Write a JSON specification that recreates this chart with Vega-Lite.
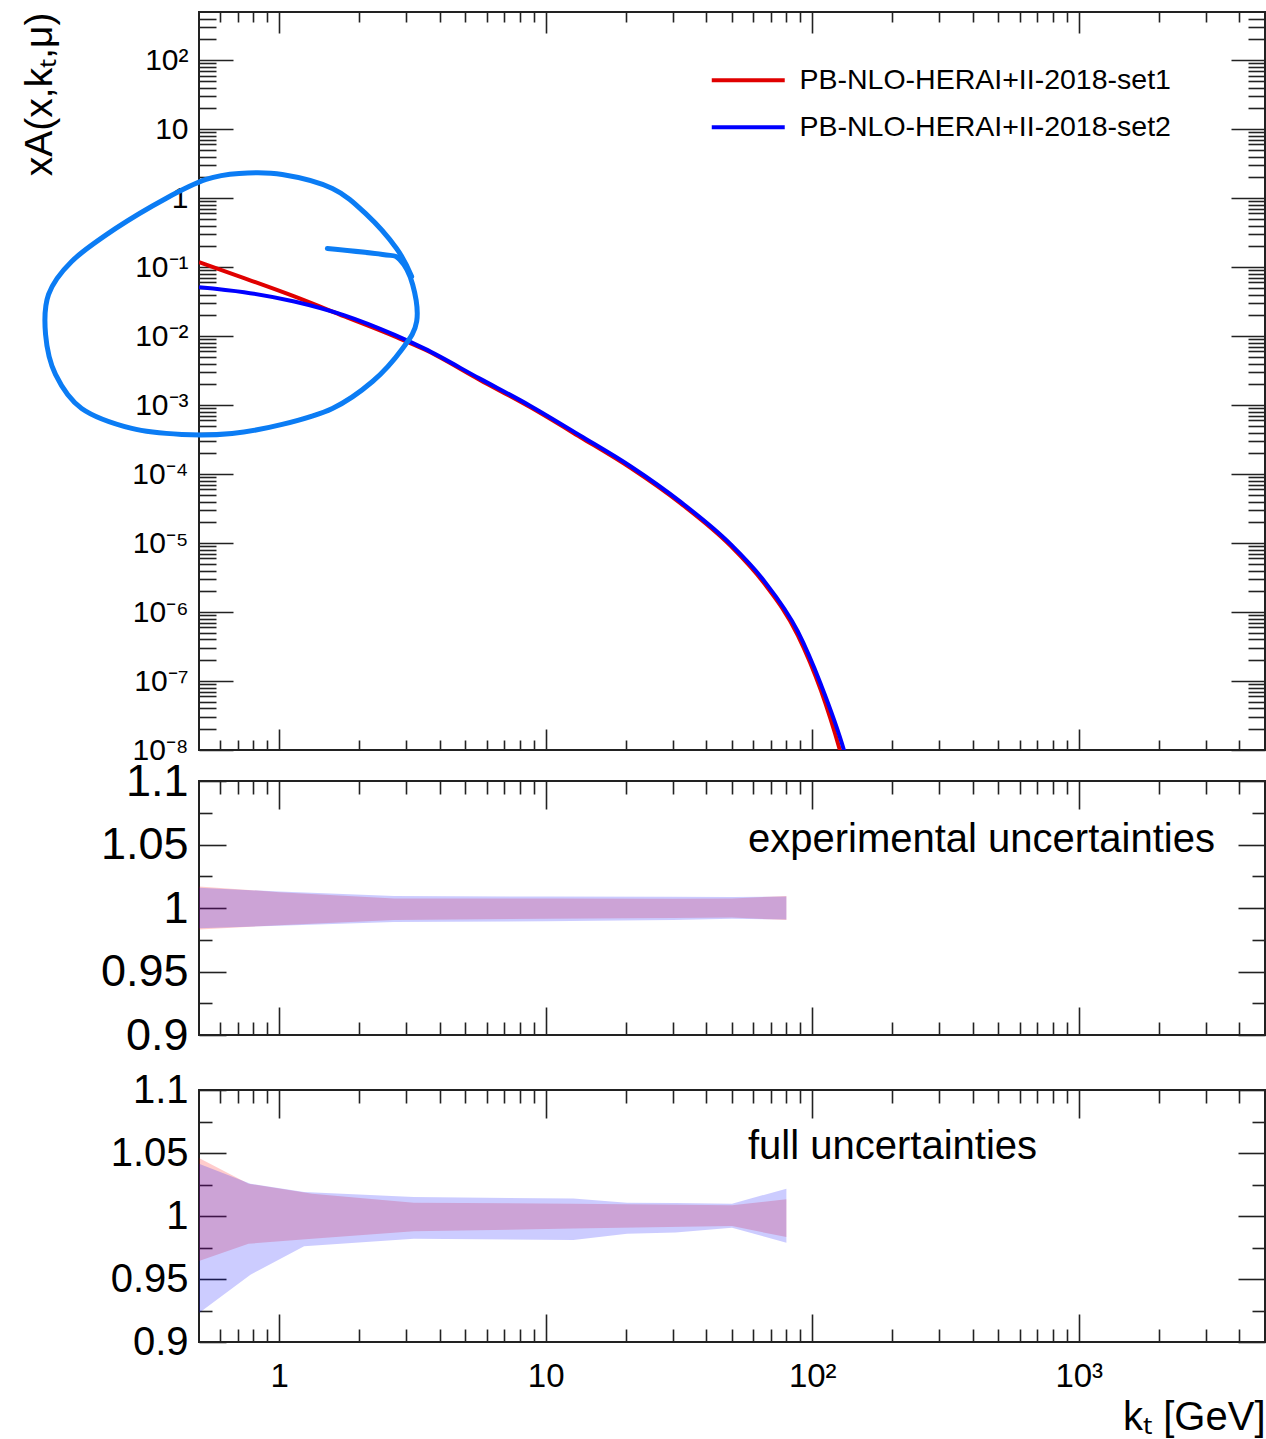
{
  "$schema": "https://vega.github.io/schema/vega-lite/v6.json",
  "padding": {"left": 19, "top": 10, "right": 0, "bottom": 0},
  "background": "white",
  "config": {
    "view": {"stroke": "#222222", "strokeWidth": 2},
    "font": "Liberation Sans",
    "axis": {"domain": false, "grid": false, "tickColor": "#222222", "tickWidth": 1.6, "labelColor": "#000000", "labelFont": "Liberation Sans", "titleFont": "Liberation Sans", "titleColor": "#000000", "titleFontWeight": "normal", "labelOverlap": false, "labelFlush": false, "labelBound": false}
  },
  "datasets": {
    "curves": [
      {"set": "PB-NLO-HERAI+II-2018-set1", "kt": 0.5, "v": 0.118},
      {"set": "PB-NLO-HERAI+II-2018-set1", "kt": 0.738, "v": 0.0693},
      {"set": "PB-NLO-HERAI+II-2018-set1", "kt": 1.139, "v": 0.0376},
      {"set": "PB-NLO-HERAI+II-2018-set1", "kt": 1.757, "v": 0.0193},
      {"set": "PB-NLO-HERAI+II-2018-set1", "kt": 2.71, "v": 0.0099},
      {"set": "PB-NLO-HERAI+II-2018-set1", "kt": 3.51, "v": 0.0064},
      {"set": "PB-NLO-HERAI+II-2018-set1", "kt": 5.66, "v": 0.00232},
      {"set": "PB-NLO-HERAI+II-2018-set1", "kt": 8.73, "v": 0.000935},
      {"set": "PB-NLO-HERAI+II-2018-set1", "kt": 13.5, "v": 0.000342},
      {"set": "PB-NLO-HERAI+II-2018-set1", "kt": 20.8, "v": 0.000123},
      {"set": "PB-NLO-HERAI+II-2018-set1", "kt": 32, "v": 3.78e-5},
      {"set": "PB-NLO-HERAI+II-2018-set1", "kt": 49.4, "v": 9.1e-6},
      {"set": "PB-NLO-HERAI+II-2018-set1", "kt": 65.8, "v": 2.65e-6},
      {"set": "PB-NLO-HERAI+II-2018-set1", "kt": 88.3, "v": 4.6e-7},
      {"set": "PB-NLO-HERAI+II-2018-set1", "kt": 107.8, "v": 7.3e-8},
      {"set": "PB-NLO-HERAI+II-2018-set1", "kt": 127, "v": 1.0e-8},
      {"set": "PB-NLO-HERAI+II-2018-set1", "kt": 140, "v": 2.5e-9},
      {"set": "PB-NLO-HERAI+II-2018-set2", "kt": 0.5, "v": 0.0513},
      {"set": "PB-NLO-HERAI+II-2018-set2", "kt": 0.738, "v": 0.0434},
      {"set": "PB-NLO-HERAI+II-2018-set2", "kt": 1.139, "v": 0.0318},
      {"set": "PB-NLO-HERAI+II-2018-set2", "kt": 1.757, "v": 0.02},
      {"set": "PB-NLO-HERAI+II-2018-set2", "kt": 2.71, "v": 0.01042},
      {"set": "PB-NLO-HERAI+II-2018-set2", "kt": 3.51, "v": 0.00658},
      {"set": "PB-NLO-HERAI+II-2018-set2", "kt": 5.66, "v": 0.00242},
      {"set": "PB-NLO-HERAI+II-2018-set2", "kt": 8.73, "v": 0.000982},
      {"set": "PB-NLO-HERAI+II-2018-set2", "kt": 13.5, "v": 0.00036},
      {"set": "PB-NLO-HERAI+II-2018-set2", "kt": 20.8, "v": 0.00013},
      {"set": "PB-NLO-HERAI+II-2018-set2", "kt": 32, "v": 3.98e-5},
      {"set": "PB-NLO-HERAI+II-2018-set2", "kt": 49.4, "v": 9.64e-6},
      {"set": "PB-NLO-HERAI+II-2018-set2", "kt": 65.8, "v": 2.87e-6},
      {"set": "PB-NLO-HERAI+II-2018-set2", "kt": 88.3, "v": 5.22e-7},
      {"set": "PB-NLO-HERAI+II-2018-set2", "kt": 107.8, "v": 8.9e-8},
      {"set": "PB-NLO-HERAI+II-2018-set2", "kt": 131.5, "v": 1.0e-8},
      {"set": "PB-NLO-HERAI+II-2018-set2", "kt": 140, "v": 4.2e-9}
    ],
    "annot": [
      {"i": 1, "kt": 1.516, "v": 0.1866},
      {"i": 2, "kt": 2.442, "v": 0.1528},
      {"i": 3, "kt": 2.829, "v": 0.1293},
      {"i": 4, "kt": 3.167, "v": 0.0561},
      {"i": 5, "kt": 3.279, "v": 0.01633},
      {"i": 6, "kt": 2.903, "v": 0.00663},
      {"i": 7, "kt": 2.239, "v": 0.0022},
      {"i": 8, "kt": 1.583, "v": 0.000895},
      {"i": 9, "kt": 1.026, "v": 0.000525},
      {"i": 10, "kt": 0.6654, "v": 0.000389},
      {"i": 11, "kt": 0.4314, "v": 0.000376},
      {"i": 12, "kt": 0.2797, "v": 0.000459},
      {"i": 13, "kt": 0.1814, "v": 0.000895},
      {"i": 14, "kt": 0.1447, "v": 0.00279},
      {"i": 15, "kt": 0.1328, "v": 0.0106},
      {"i": 16, "kt": 0.1363, "v": 0.0402},
      {"i": 17, "kt": 0.1664, "v": 0.121},
      {"i": 18, "kt": 0.2435, "v": 0.364},
      {"i": 19, "kt": 0.3756, "v": 0.99},
      {"i": 20, "kt": 0.5313, "v": 1.866},
      {"i": 21, "kt": 0.7072, "v": 2.28},
      {"i": 22, "kt": 1.026, "v": 2.205},
      {"i": 23, "kt": 1.583, "v": 1.382},
      {"i": 24, "kt": 2.125, "v": 0.581},
      {"i": 25, "kt": 2.756, "v": 0.1866},
      {"i": 26, "kt": 3.14, "v": 0.0733}
    ],
    "exp1": [
      {"kt": 0.5, "lo": 0.983, "hi": 1.017},
      {"kt": 1, "lo": 0.9865, "hi": 1.0125},
      {"kt": 2.7, "lo": 0.9906, "hi": 1.0075},
      {"kt": 10, "lo": 0.9915, "hi": 1.0075},
      {"kt": 30, "lo": 0.9922, "hi": 1.0072},
      {"kt": 50, "lo": 0.9925, "hi": 1.0075},
      {"kt": 80, "lo": 0.9905, "hi": 1.0095}
    ],
    "exp2": [
      {"kt": 0.5, "lo": 0.984, "hi": 1.016},
      {"kt": 1, "lo": 0.986, "hi": 1.013},
      {"kt": 2.7, "lo": 0.989, "hi": 1.0094},
      {"kt": 10, "lo": 0.9895, "hi": 1.009},
      {"kt": 30, "lo": 0.9905, "hi": 1.0088},
      {"kt": 50, "lo": 0.9915, "hi": 1.0087},
      {"kt": 80, "lo": 0.991, "hi": 1.009}
    ],
    "full1": [
      {"kt": 0.5, "lo": 0.9643, "hi": 1.046},
      {"kt": 0.767, "lo": 0.978, "hi": 1.0256},
      {"kt": 1.33, "lo": 0.982, "hi": 1.0177},
      {"kt": 3.2, "lo": 0.9878, "hi": 1.0106},
      {"kt": 12.7, "lo": 0.99, "hi": 1.0098},
      {"kt": 50, "lo": 0.992, "hi": 1.0085},
      {"kt": 80, "lo": 0.9833, "hi": 1.0132}
    ],
    "full2": [
      {"kt": 0.5, "lo": 0.923, "hi": 1.0415},
      {"kt": 0.78, "lo": 0.9534, "hi": 1.0256},
      {"kt": 1.24, "lo": 0.976, "hi": 1.019},
      {"kt": 3.2, "lo": 0.982, "hi": 1.0151},
      {"kt": 12.7, "lo": 0.981, "hi": 1.0138},
      {"kt": 20.2, "lo": 0.986, "hi": 1.0106},
      {"kt": 30.7, "lo": 0.987, "hi": 1.0104},
      {"kt": 50, "lo": 0.9907, "hi": 1.0098},
      {"kt": 80, "lo": 0.9788, "hi": 1.0217}
    ],
    "txt2": [{"kt": 57.4, "r": 1.0535, "t": "experimental uncertainties"}],
    "txt3": [{"kt": 57.4, "r": 1.0548, "t": "full uncertainties"}]
  },
  "bounds": "flush",
  "spacing": 0,
  "resolve": {"legend": {"color": "independent"}},
  "vconcat": [
    {
      "width": 1066,
      "height": 738,
      "resolve": {"axis": {"x": "independent", "y": "independent"}},
      "layer": [
        {
          "data": {"name": "curves"},
          "mark": {"type": "line", "strokeWidth": 4, "clip": true, "interpolate": "monotone"},
          "encoding": {
            "x": {"field": "kt", "type": "quantitative", "scale": {"type": "log", "domain": [0.5, 5000], "nice": false},
              "axis": {"orient": "bottom", "title": null, "labels": false,
                "values": [0.6,0.7,0.8,0.9,1,2,3,4,5,6,7,8,9,10,20,30,40,50,60,70,80,90,100,200,300,400,500,600,700,800,900,1000,2000,3000,4000,5000],
                "tickSize": {"condition": {"test": "indexof([1,10,100,1000], datum.value) >= 0", "value": -21}, "value": -10}}},
            "y": {"field": "v", "type": "quantitative", "scale": {"type": "log", "domain": [1e-8, 500], "nice": false},
              "axis": {"orient": "left", "title": "xA(x,kₜ,μ)", "titleFontSize": 39, "titleX": -148, "titleY": 0, "titleAngle": 270, "titleAlign": "right", "titleBaseline": "alphabetic",
                "labelFontSize": {"condition": {"test": "abs(log(datum.value)/LN10 - round(log(datum.value)/LN10)) > 0.001", "value": 0}, "value": 30},
                "labelPadding": 45,
                "values": [1e-8,2e-8,3e-8,4e-8,5e-8,6e-8,7e-8,8e-8,9e-8,1e-7,2e-7,3e-7,4e-7,5e-7,6e-7,7e-7,8e-7,9e-7,1e-6,2e-6,3e-6,4e-6,5e-6,6e-6,7e-6,8e-6,9e-6,1e-5,2e-5,3e-5,4e-5,5e-5,6e-5,7e-5,8e-5,9e-5,1e-4,2e-4,3e-4,4e-4,5e-4,6e-4,7e-4,8e-4,9e-4,0.001,0.002,0.003,0.004,0.005,0.006,0.007,0.008,0.009,0.01,0.02,0.03,0.04,0.05,0.06,0.07,0.08,0.09,0.1,0.2,0.3,0.4,0.5,0.6,0.7,0.8,0.9,1,2,3,4,5,6,7,8,9,10,20,30,40,50,60,70,80,90,100,200,300,400],
                "labelExpr": "abs(log(datum.value)/LN10 - round(log(datum.value)/LN10)) > 0.001 ? '' : ['10⁻⁸','10⁻⁷','10⁻⁶','10⁻⁵','10⁻⁴','10⁻³','10⁻²','10⁻¹','1','10','10²'][round(log(datum.value)/LN10) + 8]",
                "tickSize": {"condition": {"test": "abs(log(datum.value)/LN10 - round(log(datum.value)/LN10)) < 0.001", "value": -34}, "value": -17}}},
            "color": {"field": "set", "type": "nominal",
              "scale": {"domain": ["PB-NLO-HERAI+II-2018-set1", "PB-NLO-HERAI+II-2018-set2"], "range": ["#e00000", "#0000ff"]},
              "legend": {"orient": "none", "legendX": 535, "legendY": 54, "title": null, "symbolType": "M-5,0H5", "symbolSize": 213, "symbolStrokeWidth": 4,
                "labelFontSize": 28.5, "labelFont": "Liberation Sans", "labelColor": "#000000", "labelOffset": 37, "rowPadding": 18, "labelLimit": 0, "padding": 0}}
          }
        },
        {
          "data": {"name": "annot"},
          "mark": {"type": "line", "stroke": "#0b7cf4", "strokeWidth": 5, "interpolate": "cardinal", "strokeCap": "round", "clip": false},
          "encoding": {
            "x": {"field": "kt", "type": "quantitative",
              "axis": {"orient": "top", "title": null, "labels": false,
                "values": [0.6,0.7,0.8,0.9,1,2,3,4,5,6,7,8,9,10,20,30,40,50,60,70,80,90,100,200,300,400,500,600,700,800,900,1000,2000,3000,4000,5000],
                "tickSize": {"condition": {"test": "indexof([1,10,100,1000], datum.value) >= 0", "value": -21}, "value": -10}}},
            "y": {"field": "v", "type": "quantitative",
              "axis": {"orient": "right", "title": null, "labels": false,
                "values": [1e-8,2e-8,3e-8,4e-8,5e-8,6e-8,7e-8,8e-8,9e-8,1e-7,2e-7,3e-7,4e-7,5e-7,6e-7,7e-7,8e-7,9e-7,1e-6,2e-6,3e-6,4e-6,5e-6,6e-6,7e-6,8e-6,9e-6,1e-5,2e-5,3e-5,4e-5,5e-5,6e-5,7e-5,8e-5,9e-5,1e-4,2e-4,3e-4,4e-4,5e-4,6e-4,7e-4,8e-4,9e-4,0.001,0.002,0.003,0.004,0.005,0.006,0.007,0.008,0.009,0.01,0.02,0.03,0.04,0.05,0.06,0.07,0.08,0.09,0.1,0.2,0.3,0.4,0.5,0.6,0.7,0.8,0.9,1,2,3,4,5,6,7,8,9,10,20,30,40,50,60,70,80,90,100,200,300,400],
                "tickSize": {"condition": {"test": "abs(log(datum.value)/LN10 - round(log(datum.value)/LN10)) < 0.001", "value": -34}, "value": -17}}},
            "order": {"field": "i", "type": "quantitative"}
          }
        }
      ]
    },
    {
      "width": 1066,
      "height": 31,
      "view": {"stroke": null},
      "data": {"values": []},
      "mark": {"type": "text", "text": ""},
      "encoding": {}
    },
    {
      "width": 1066,
      "height": 254,
      "resolve": {"axis": {"x": "independent", "y": "independent"}},
      "layer": [
        {
          "data": {"name": "exp1"},
          "mark": {"type": "area", "color": "#ff0000", "opacity": 0.2},
          "encoding": {
            "x": {"field": "kt", "type": "quantitative", "scale": {"type": "log", "domain": [0.5, 5000], "nice": false},
              "axis": {"orient": "bottom", "title": null, "labels": false,
                "values": [0.6,0.7,0.8,0.9,1,2,3,4,5,6,7,8,9,10,20,30,40,50,60,70,80,90,100,200,300,400,500,600,700,800,900,1000,2000,3000,4000,5000],
                "tickSize": {"condition": {"test": "indexof([1,10,100,1000], datum.value) >= 0", "value": -28}, "value": -13}}},
            "y": {"field": "lo", "type": "quantitative", "scale": {"domain": [0.9, 1.1], "nice": false, "zero": false},
              "axis": {"orient": "left", "title": null, "labelFontSize": 45, "labelPadding": 38,
                "values": [0.9,0.925,0.95,0.975,1,1.025,1.05,1.075,1.1],
                "labelExpr": "abs(datum.value*20 - round(datum.value*20)) < 0.001 ? '' + datum.value : ''",
                "tickSize": {"condition": {"test": "abs(datum.value*20 - round(datum.value*20)) < 0.001", "value": -27}, "value": -13}}},
            "y2": {"field": "hi"}
          }
        },
        {
          "data": {"name": "exp2"},
          "mark": {"type": "area", "color": "#0000ff", "opacity": 0.2},
          "encoding": {
            "x": {"field": "kt", "type": "quantitative", "axis": null},
            "y": {"field": "lo", "type": "quantitative", "axis": null},
            "y2": {"field": "hi"}
          }
        },
        {
          "data": {"name": "txt2"},
          "mark": {"type": "text", "align": "left", "baseline": "middle", "fontSize": 40, "font": "Liberation Sans", "color": "#000000"},
          "encoding": {
            "x": {"field": "kt", "type": "quantitative",
              "axis": {"orient": "top", "title": null, "labels": false,
                "values": [0.6,0.7,0.8,0.9,1,2,3,4,5,6,7,8,9,10,20,30,40,50,60,70,80,90,100,200,300,400,500,600,700,800,900,1000,2000,3000,4000,5000],
                "tickSize": {"condition": {"test": "indexof([1,10,100,1000], datum.value) >= 0", "value": -28}, "value": -13}}},
            "y": {"field": "r", "type": "quantitative",
              "axis": {"orient": "right", "title": null, "labels": false,
                "values": [0.9,0.925,0.95,0.975,1,1.025,1.05,1.075,1.1],
                "tickSize": {"condition": {"test": "abs(datum.value*20 - round(datum.value*20)) < 0.001", "value": -27}, "value": -13}}},
            "text": {"field": "t"}
          }
        }
      ]
    },
    {
      "width": 1066,
      "height": 55,
      "view": {"stroke": null},
      "data": {"values": []},
      "mark": {"type": "text", "text": ""},
      "encoding": {}
    },
    {
      "width": 1066,
      "height": 252,
      "resolve": {"axis": {"x": "independent", "y": "independent"}},
      "layer": [
        {
          "data": {"name": "full1"},
          "mark": {"type": "area", "color": "#ff0000", "opacity": 0.2},
          "encoding": {
            "x": {"field": "kt", "type": "quantitative", "scale": {"type": "log", "domain": [0.5, 5000], "nice": false},
              "axis": {"orient": "bottom", "title": "kₜ [GeV]", "titleFontSize": 40, "titleX": 1066, "titleY": 87, "titleAlign": "right", "titleAnchor": "end", "titleBaseline": "alphabetic",
                "labelFontSize": 33, "labelPadding": 46,
                "values": [0.6,0.7,0.8,0.9,1,2,3,4,5,6,7,8,9,10,20,30,40,50,60,70,80,90,100,200,300,400,500,600,700,800,900,1000,2000,3000,4000,5000],
                "labelExpr": "datum.value == 1 ? '1' : datum.value == 10 ? '10' : datum.value == 100 ? '10²' : datum.value == 1000 ? '10³' : ''",
                "tickSize": {"condition": {"test": "indexof([1,10,100,1000], datum.value) >= 0", "value": -28}, "value": -13}}},
            "y": {"field": "lo", "type": "quantitative", "scale": {"domain": [0.9, 1.1], "nice": false, "zero": false},
              "axis": {"orient": "left", "title": null, "labelFontSize": 40, "labelPadding": 38,
                "values": [0.9,0.925,0.95,0.975,1,1.025,1.05,1.075,1.1],
                "labelExpr": "abs(datum.value*20 - round(datum.value*20)) < 0.001 ? '' + datum.value : ''",
                "tickSize": {"condition": {"test": "abs(datum.value*20 - round(datum.value*20)) < 0.001", "value": -27}, "value": -13}}},
            "y2": {"field": "hi"}
          }
        },
        {
          "data": {"name": "full2"},
          "mark": {"type": "area", "color": "#0000ff", "opacity": 0.2},
          "encoding": {
            "x": {"field": "kt", "type": "quantitative", "axis": null},
            "y": {"field": "lo", "type": "quantitative", "axis": null},
            "y2": {"field": "hi"}
          }
        },
        {
          "data": {"name": "txt3"},
          "mark": {"type": "text", "align": "left", "baseline": "middle", "fontSize": 40, "font": "Liberation Sans", "color": "#000000"},
          "encoding": {
            "x": {"field": "kt", "type": "quantitative",
              "axis": {"orient": "top", "title": null, "labels": false,
                "values": [0.6,0.7,0.8,0.9,1,2,3,4,5,6,7,8,9,10,20,30,40,50,60,70,80,90,100,200,300,400,500,600,700,800,900,1000,2000,3000,4000,5000],
                "tickSize": {"condition": {"test": "indexof([1,10,100,1000], datum.value) >= 0", "value": -28}, "value": -13}}},
            "y": {"field": "r", "type": "quantitative",
              "axis": {"orient": "right", "title": null, "labels": false,
                "values": [0.9,0.925,0.95,0.975,1,1.025,1.05,1.075,1.1],
                "tickSize": {"condition": {"test": "abs(datum.value*20 - round(datum.value*20)) < 0.001", "value": -27}, "value": -13}}},
            "text": {"field": "t"}
          }
        }
      ]
    }
  ]
}
